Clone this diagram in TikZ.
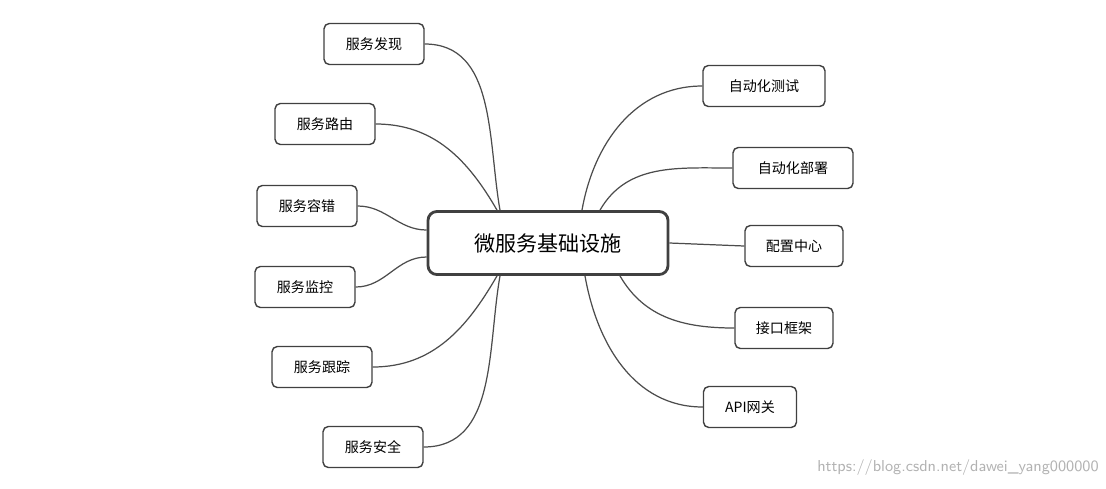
\documentclass[tikz,border=0pt]{standalone}
\usepackage{fontspec}
\newfontfamily\cjk{Noto Sans CJK SC}
\usetikzlibrary{calc}

\begin{document}
\begin{tikzpicture}[x=0.02cm, y=-0.02cm,
    every node/.style={
        rectangle,
        rounded corners=3pt,
        draw=black!75,
        line width=0.8pt,
        fill=white,
        font=\cjk\fontsize{8pt}{9pt}\selectfont,
        minimum height=0.82cm,
        inner xsep=6pt
    },
    branch/.style={draw=black!70, line width=0.7pt}
]
    \useasboundingbox (0,0) rectangle (1106,488);

    \node (hub) [line width=1.6pt, rounded corners=5pt, minimum width=4.8cm, minimum height=1.26cm,
        font=\cjk\fontsize{12pt}{14pt}\selectfont] at (548,243)
    {
        微服务基础设施
    };

    \node (discovery) [minimum width=2cm] at (374,44) {服务发现};
    \node (routing) [minimum width=2cm] at (325,124) {服务路由};
    \node (faulttol) [minimum width=2cm] at (307,206) {服务容错};
    \node (monitor) [minimum width=2cm] at (305,287) {服务监控};
    \node (tracing) [minimum width=2cm] at (322,367) {服务跟踪};
    \node (security) [minimum width=2cm] at (373,447) {服务安全};

    \node (autotest) [minimum width=2.44cm] at (764,86) {自动化测试};
    \node (autodeploy) [minimum width=2.4cm] at (793,168) {自动化部署};
    \node (config) [minimum width=1.96cm] at (794,246) {配置中心};
    \node (interface) [minimum width=1.96cm] at (784,328) {接口框架};
    \node (gateway) [minimum width=1.86cm] at (750,407) {API网关};

    \node (mark) [draw=none, fill=none, minimum height=0pt, text=black!30,
        font=\sffamily\fontsize{9pt}{10pt}\selectfont] at (958,468)
    {
        https://blog.csdn.net/dawei\_yang000000
    };

    \draw[branch] ($(hub.north)+(-48,0)$) to[out=100, in=0] (discovery.east);
    \draw[branch] ($(hub.north)+(-51,0)$) to[out=120, in=0] (routing.east);
    \draw[branch] ($(hub.west)+(0,-13)$) to[out=180, in=0] (faulttol.east);
    \draw[branch] ($(hub.west)+(0,14)$) to[out=180, in=0] (monitor.east);
    \draw[branch] ($(hub.south)+(-51,0)$) to[out=-120, in=0] (tracing.east);
    \draw[branch] ($(hub.south)+(-48,0)$) to[out=-100, in=0] (security.east);

    \draw[branch] ($(hub.north)+(34,0)$) to[out=80, in=180] (autotest.west);
    \draw[branch] ($(hub.north)+(52,0)$) to[out=60, in=180] (autodeploy.west);
    \draw[branch] (hub.east) to (config.west);
    \draw[branch] ($(hub.south)+(72,0)$) to[out=-60, in=180] (interface.west);
    \draw[branch] ($(hub.south)+(37,0)$) to[out=-80, in=180] (gateway.west);
\end{tikzpicture}
\end{document}
